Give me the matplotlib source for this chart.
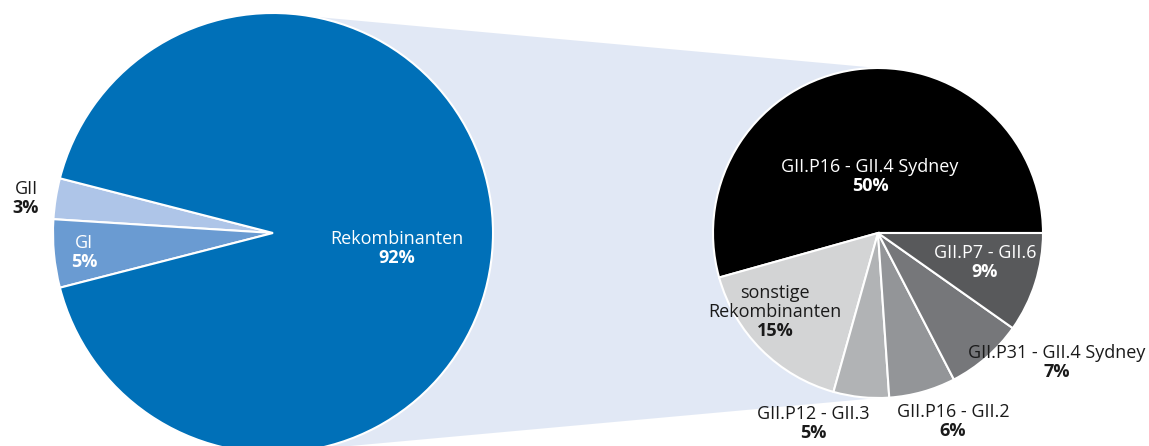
import matplotlib
matplotlib.use("Agg")
import matplotlib.pyplot as plt
from matplotlib.patches import Polygon

plt.rcParams["font.family"] = ["Open Sans", "DejaVu Sans"]

# overall genogroups
main_labels = ["GII", "GI", "Rekombinanten"]
main_values = [3, 5, 92]
main_colors = ["#aec5e8", "#6a9bd2", "#0070b8"]

# breakdown of the recombinant strains (percent of all samples)
sub_labels = ["GII.P16 - GII.4 Sydney", "sonstige\nRekombinanten", "GII.P12 - GII.3",
              "GII.P16 - GII.2", "GII.P31 - GII.4 Sydney", "GII.P7 - GII.6"]
sub_values = [50, 15, 5, 6, 7, 9]
sub_colors = ["#000000", "#d3d4d5", "#b1b3b5", "#939598", "#76777a", "#58595b"]

W, H = 1149, 446
fig = plt.figure(figsize=(W / 100, H / 100), dpi=100)
ax = fig.add_axes([0, 0, 1, 1])

c1, r1 = (273, 213), 220
c2, r2 = (878, 213), 165

# connector band between the two pies
band = Polygon([(c1[0], c1[1] + r1), (c2[0], c2[1] + r2),
                (c2[0], c2[1] - r2), (c1[0], c1[1] - r1)],
               closed=True, facecolor="#e1e8f5", edgecolor="none", zorder=0)
ax.add_patch(band)

small = main_values[0] + main_values[1]
start1 = 180 - small / sum(main_values) * 360 / 2
ax.pie(main_values, colors=main_colors, startangle=start1, center=c1, radius=r1,
       wedgeprops=dict(edgecolor="white", linewidth=1.5), frame=True)
ax.pie(sub_values, colors=sub_colors, startangle=0, center=c2, radius=r2,
       wedgeprops=dict(edgecolor="white", linewidth=1.5), frame=True)
ax.set_xlim(0, W)
ax.set_ylim(0, H)
ax.set_aspect("equal")
ax.axis("off")

fs = 13


def put(x, y, name, value, color):
    # name on top, bold percentage underneath; y given from the top edge
    y = H - y
    ax.text(x, y, name, ha="center", va="bottom", fontsize=fs, color=color, linespacing=1.05)
    ax.text(x, y - 1, f"{value}%", ha="center", va="top", fontsize=fs, color=color,
            fontweight="bold")


main_pos = [(26, 198, "#1a1a1a"), (84, 252, "white"), (397, 248, "white")]
for (x, y, col), name, v in zip(main_pos, main_labels, main_values):
    put(x, y, name, v, col)

sub_pos = [(870, 176, "white"), (775, 321, "#1a1a1a"), (813, 423, "#1a1a1a"),
           (953, 421, "#1a1a1a"), (1057, 362, "#1a1a1a"), (985, 262, "white")]
for (x, y, col), name, v in zip(sub_pos, sub_labels, sub_values):
    put(x, y, name, v, col)

fig.savefig("out.png", dpi=100)
